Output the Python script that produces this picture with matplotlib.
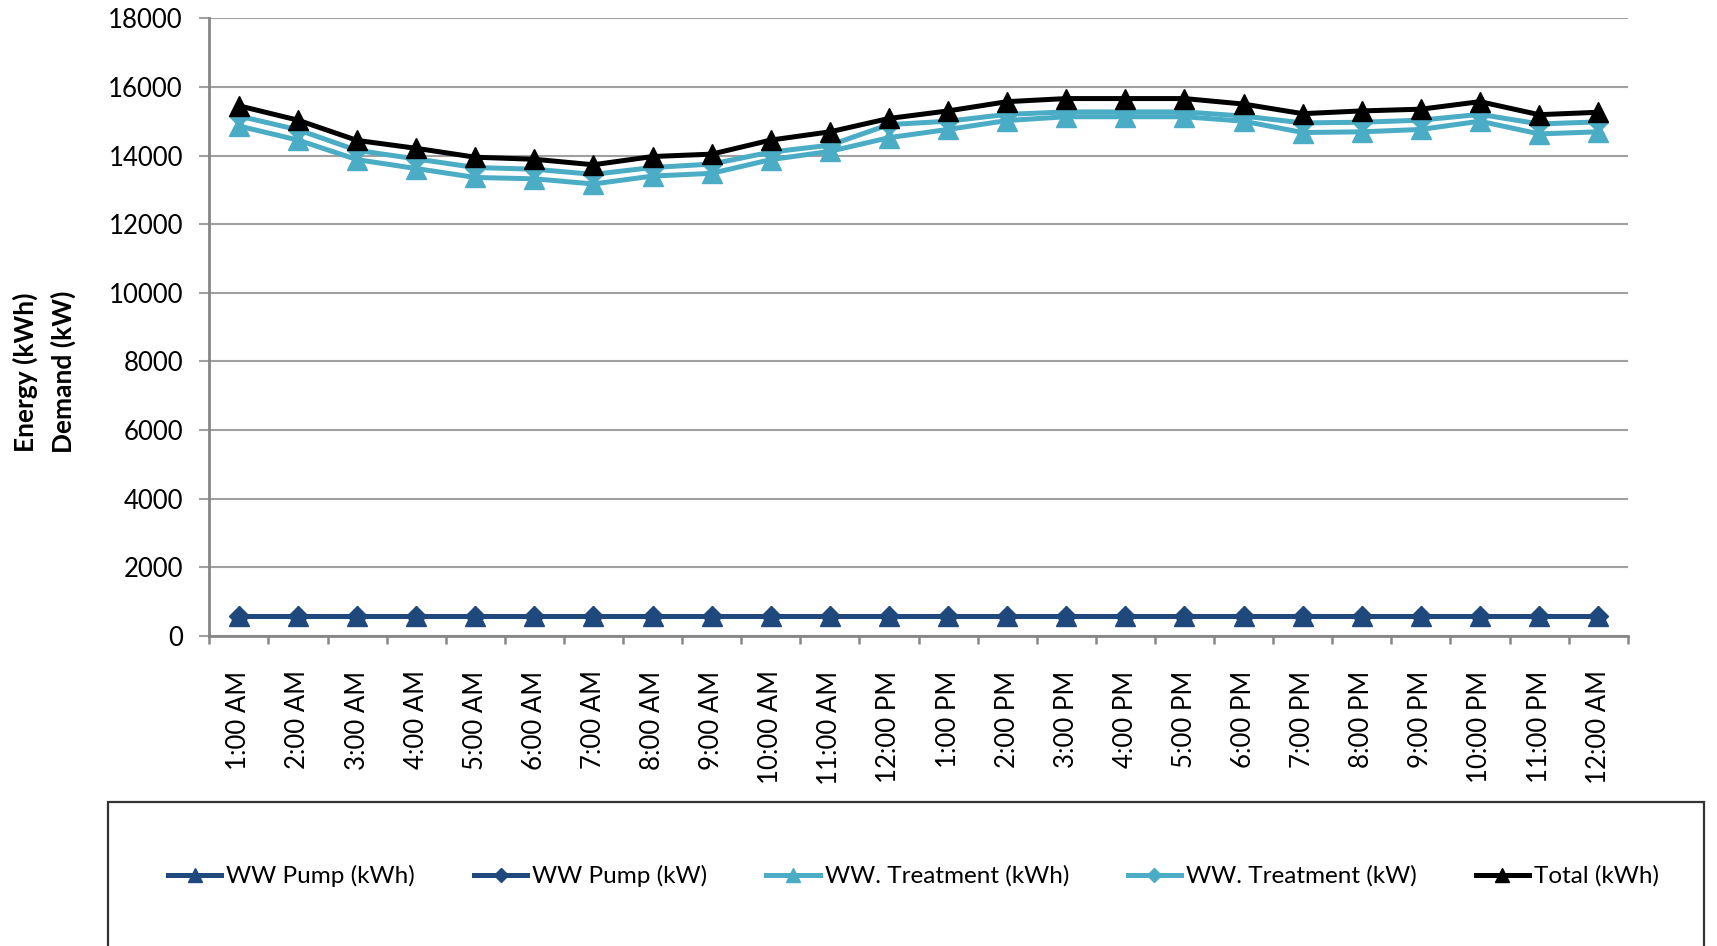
import matplotlib
matplotlib.use("Agg")
import matplotlib.pyplot as plt
from matplotlib.patches import Rectangle
import numpy as np

plt.rcParams['font.family'] = ['Lato', 'DejaVu Sans']

hours = ['1:00 AM', '2:00 AM', '3:00 AM', '4:00 AM', '5:00 AM', '6:00 AM',
         '7:00 AM', '8:00 AM', '9:00 AM', '10:00 AM', '11:00 AM', '12:00 PM',
         '1:00 PM', '2:00 PM', '3:00 PM', '4:00 PM', '5:00 PM', '6:00 PM',
         '7:00 PM', '8:00 PM', '9:00 PM', '10:00 PM', '11:00 PM', '12:00 AM']

pump_kwh = [560] * 24
pump_kw = [560] * 24
treat_kwh = [14860, 14450, 13880, 13620, 13360, 13320, 13170, 13400, 13480, 13880, 14120, 14520,
             14760, 15020, 15130, 15130, 15130, 15000, 14670, 14690, 14760, 15000, 14630, 14690]
treat_kw = [15150, 14750, 14150, 13900, 13650, 13600, 13450, 13650, 13750, 14100, 14300, 14900,
            15000, 15200, 15270, 15270, 15270, 15150, 14950, 14970, 15030, 15200, 14920, 14980]
total_kwh = [15450, 15030, 14440, 14210, 13950, 13890, 13730, 13970, 14040, 14450, 14690, 15080,
             15300, 15570, 15660, 15660, 15660, 15500, 15220, 15300, 15350, 15570, 15190, 15260]

series = [
    ('WW Pump (kWh)', pump_kwh, '#1F497D', '^', 14),
    ('WW Pump (kW)', pump_kw, '#1F497D', 'D', 10),
    ('WW. Treatment (kWh)', treat_kwh, '#4BACC6', '^', 14),
    ('WW. Treatment (kW)', treat_kw, '#4BACC6', 'D', 10),
    ('Total (kWh)', total_kwh, '#000000', '^', 14),
]

W, H = 1717, 946
fig = plt.figure(figsize=(W / 100, H / 100), dpi=100)
ax = fig.add_axes([209.3 / W, 1 - 635.7 / H, (1627.7 - 209.3) / W, (635.7 - 18.3) / H])

x = np.arange(len(hours))
handles = []
for name, vals, col, mk, ms in series:
    h, = ax.plot(x, vals, color=col, lw=3.6, marker=mk, markersize=ms,
                 markerfacecolor=col, markeredgecolor=col, label=name)
    handles.append(h)

ax.set_xlim(-0.5, len(hours) - 0.5)
ax.set_ylim(0, 18000)
ax.set_yticks(np.arange(0, 18001, 2000))
ax.yaxis.grid(True, color='#a0a0a0', lw=1.5)
ax.set_axisbelow(True)

# ticks between categories, labels centred under each hour
ax.set_xticks(np.arange(-0.5, len(hours), 1.0))
ax.set_xticklabels([])
ax.set_xticks(x, minor=True)
ax.set_xticklabels(hours, minor=True, rotation=90, fontsize=18.5, va='top', ha='center')
ax.tick_params(axis='x', which='major', length=6, width=1.8, color='#868686', direction='out')
ax.tick_params(axis='x', which='minor', length=0, pad=25)
ax.tick_params(axis='y', length=7, width=1.5, color='#a0a0a0', labelsize=18.5, pad=12)

for s in ['top', 'right']:
    ax.spines[s].set_visible(False)
for s in ['left', 'bottom']:
    ax.spines[s].set_color('#868686')
    ax.spines[s].set_linewidth(2)

fig.text(25 / W, 1 - 372 / H, 'Energy (kWh)', rotation=90, fontsize=19,
         fontweight='bold', ha='center', va='center')
fig.text(63 / W, 1 - 372 / H, 'Demand (kW)', rotation=90, fontsize=19,
         fontweight='bold', ha='center', va='center')

# legend frame running off the bottom of the figure
fig.patches.append(Rectangle((108 / W, -0.1), (1704 - 108) / W, 0.1 + 1 - 802 / H,
                             transform=fig.transFigure, fill=False,
                             edgecolor='#333333', lw=1.6))
fig.legend(handles=handles, loc='center left', bbox_to_anchor=(168 / W, 1 - 876 / H),
           ncol=5, frameon=False, fontsize=17.5, handlelength=2.2, handletextpad=0.2,
           columnspacing=2.42, borderpad=0, borderaxespad=0, markerscale=0.75)

fig.savefig('out.png', dpi=100)
